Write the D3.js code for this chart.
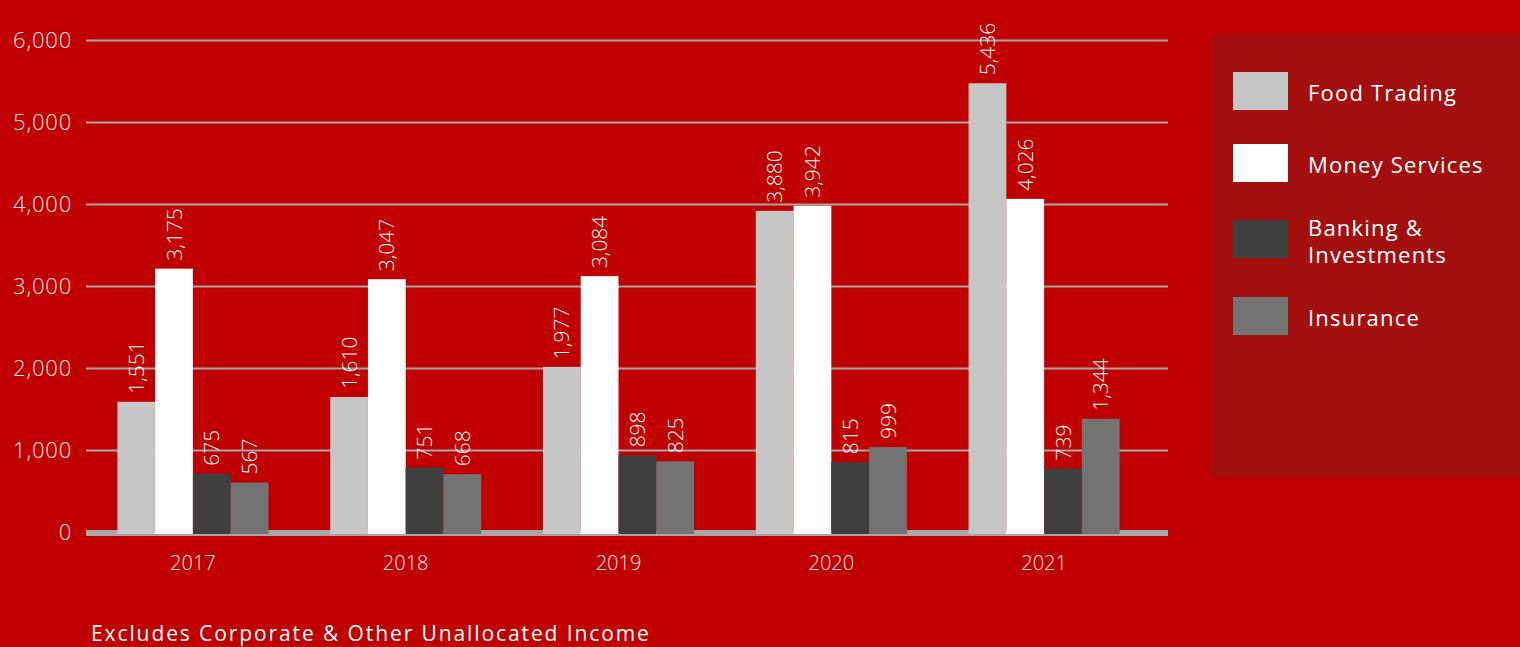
<!DOCTYPE html>
<html>
<head>
<meta charset="utf-8">
<script src="https://cdn.jsdelivr.net/npm/d3@7"></script>
<style>
  html, body { margin: 0; padding: 0; background: #c00000; }
  svg { display: block; }
  text { font-family: "Open Sans", sans-serif; }
</style>
</head>
<body>
<svg id="chart" width="1520" height="647"></svg>
<script>
const years = ["2017", "2018", "2019", "2020", "2021"];
const seriesNames = ["Food Trading", "Money Services", "Banking & Investments", "Insurance"];
const legendLines = [["Food Trading"], ["Money Services"], ["Banking &", "Investments"], ["Insurance"]];
const foodTrading = [1551, 1610, 1977, 3880, 5436];
const moneyServices = [3175, 3047, 3084, 3942, 4026];
const bankingInvestments = [675, 751, 898, 815, 739];
const insurance = [567, 668, 825, 999, 1344];
const yTicks = [0, 1000, 2000, 3000, 4000, 5000, 6000];
const colors = ["#c6c6c6", "#ffffff", "#3f3f3f", "#737373"];
const footnote = "Excludes Corporate & Other Unallocated Income";

const seriesValues = [foodTrading, moneyServices, bankingInvestments, insurance];

const svg = d3.select("#chart");
svg.append("rect").attr("width", 1520).attr("height", 647).attr("fill", "#c00000");

const y = d3.scaleLinear().domain([0, 6000]).range([532, 40]);
const x0 = d3.scaleBand().domain(years).range([86.5, 1150.5]).paddingInner(0.29).paddingOuter(0.145);
const x1 = d3.scaleBand().domain(d3.range(4)).range([0, x0.bandwidth()]);

// grid lines
svg.append("g").selectAll("line").data(yTicks.filter(d => d > 0)).join("line")
  .attr("x1", 86).attr("x2", 1168)
  .attr("y1", d => Math.round(y(d)) + 0.5).attr("y2", d => Math.round(y(d)) + 0.5)
  .attr("stroke", "#a6a6a6").attr("stroke-width", 2);

// baseline
svg.append("rect").attr("x", 86).attr("y", y(0) - 2).attr("width", 1168 - 86).attr("height", 6)
  .attr("fill", "#a6a6a6");

// y axis labels
const yAxis = d3.axisLeft(y).tickValues(yTicks).tickFormat(d3.format(",")).tickSize(0).tickPadding(0);
const gy = svg.append("g").attr("transform", "translate(72,0)").call(yAxis);
gy.select(".domain").remove();
gy.selectAll("text").attr("fill", "#f3e6e6").attr("font-size", 22).attr("font-weight", 300)
  .attr("letter-spacing", "0.8px")
  .attr("font-family", "'Open Sans', sans-serif").attr("dy", "0.36em");

// x axis labels
const xAxis = d3.axisBottom(x0).tickSize(0).tickPadding(0);
const gx = svg.append("g").attr("transform", "translate(0,563)").call(xAxis);
gx.select(".domain").remove();
gx.selectAll("text").attr("fill", "#f3e6e6").attr("font-size", 20).attr("font-weight", 300)
  .attr("font-family", "'Open Sans', sans-serif").attr("dy", "0.36em");

// bars
const groups = svg.append("g").selectAll("g").data(years).join("g")
  .attr("transform", d => `translate(${x0(d)},0)`);

groups.each(function(yr, i) {
  const g = d3.select(this);
  const vals = seriesValues.map(s => s[i]);
  g.selectAll("rect").data(vals).join("rect")
    .attr("x", (d, j) => x1(j))
    .attr("width", x1.bandwidth())
    .attr("y", d => y(d) - 3)
    .attr("height", d => y(0) - y(d) + 5)
    .attr("fill", (d, j) => colors[j]);
  g.selectAll("text").data(vals).join("text")
    .attr("transform", (d, j) => `translate(${x1(j) + x1.bandwidth() / 2},${y(d) - 11}) rotate(-90)`)
    .attr("dy", "0.36em")
    .attr("text-anchor", "start")
    .attr("fill", "#ffffff")
    .attr("font-size", 21)
    .attr("font-weight", 300)
    .text(d => d3.format(",")(d));
});

// legend
svg.append("rect").attr("x", 1211).attr("y", 34).attr("width", 309).attr("height", 443).attr("fill", "#a30f0f");
const legendY = [72, 144, 220, 297];
const lg = svg.append("g").selectAll("g").data(seriesNames).join("g")
  .attr("transform", (d, i) => `translate(1233,${legendY[i]})`);
lg.append("rect").attr("width", 55).attr("height", 38).attr("fill", (d, i) => colors[i]);
lg.each(function(d, i) {
  const lines = legendLines[i];
  const t = d3.select(this).append("text")
    .attr("x", 75).attr("fill", "#ffffff").attr("font-size", 22).attr("font-weight", 500)
    .attr("letter-spacing", "1.2px");
  const startY = 21.5 - (lines.length - 1) * 13.5;
  lines.forEach((ln, k) => {
    t.append("tspan").attr("x", 75).attr("y", startY + k * 27).attr("dy", "0.36em").text(ln);
  });
});

// footnote
svg.append("text").attr("x", 91).attr("y", 641).attr("fill", "#ffffff")
  .attr("font-size", 21).attr("font-weight", 500).attr("letter-spacing", "1.9px").text(footnote);
</script>
</body>
</html>
